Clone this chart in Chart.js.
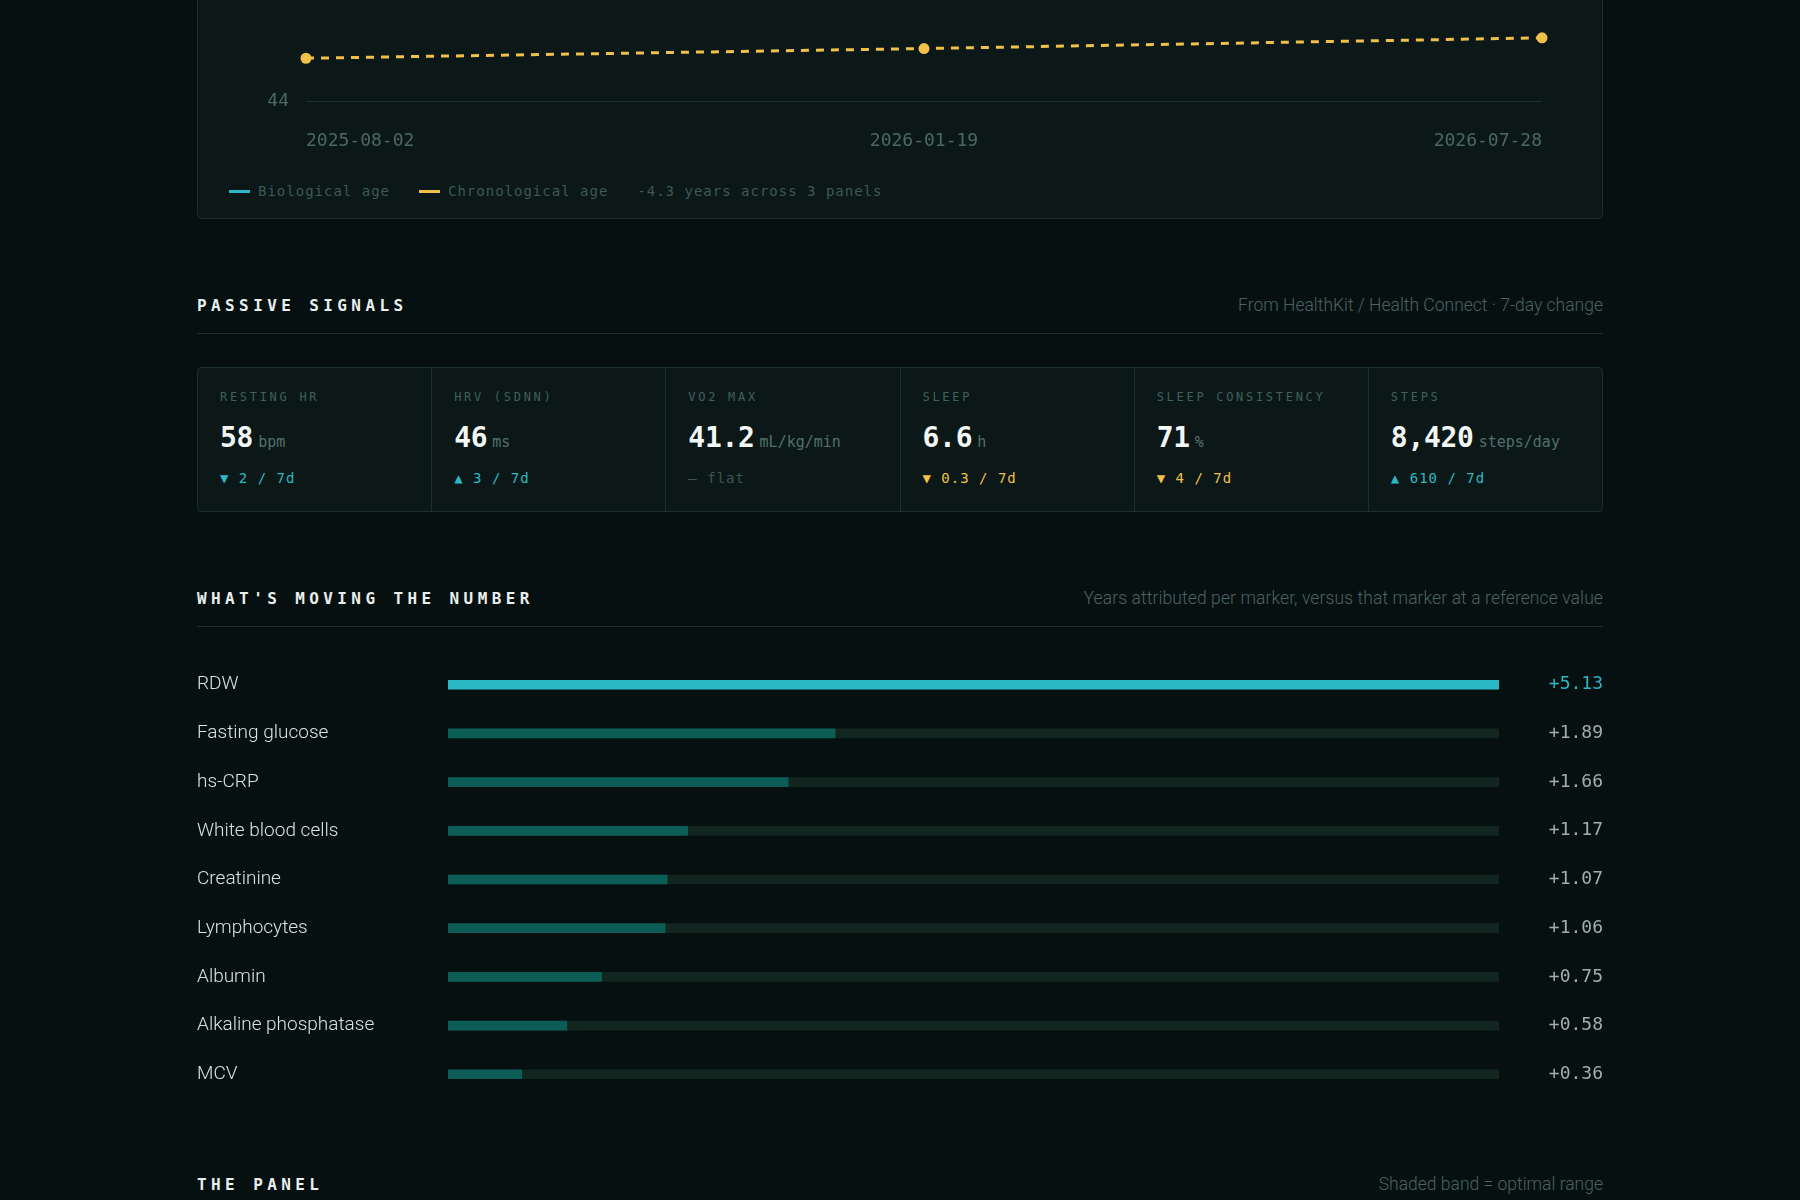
<!DOCTYPE html>
<html>
<head>
<meta charset="utf-8">
<script src="https://cdn.jsdelivr.net/npm/chart.js@4.4.1/dist/chart.umd.min.js"></script>
<style>
  html, body { margin: 0; padding: 0; }
  body {
    width: 1800px; height: 1200px; overflow: hidden; position: relative;
    background: #071010; color: #e6eeec;
    font-family: Roboto, "Noto Sans", sans-serif;
  }
  .abs { position: absolute; }
  .panel {
    left: 197px; top: -260px; width: 1404px; height: 477px;
    background: #0b1817; border: 1px solid #1a302c; border-radius: 6px;
  }
  .legend {
    left: 229px; top: 181px; height: 20px; display: flex; align-items: center;
    font-family: "DejaVu Sans Mono", monospace; font-size: 14px; letter-spacing: 1px; color: #3e5955;
  }
  .legend .sw { width: 21px; height: 3px; margin-right: 8px; }
  .legend .item { display: flex; align-items: center; margin-right: 29px; }
  .head {
    left: 197px; width: 1406px; height: 24px; display: flex; align-items: center; justify-content: space-between;
  }
  .head .t {
    font-family: "DejaVu Sans Mono", monospace; font-weight: bold; font-size: 16px;
    letter-spacing: 4.4px; color: #e8efed;
  }
  .head .n { font-size: 17.5px; font-weight: 300; color: #4b6460; }
  .rule { left: 197px; width: 1406px; height: 1px; background: #1a302c; }
  .cards {
    left: 197px; top: 367px; width: 1404px; height: 143px; display: flex;
    background: #0b1817; border: 1px solid #1a302c; border-radius: 4px;
  }
  .card { flex: 1; position: relative; border-left: 1px solid #1a302c; }
  .card:first-child { border-left: none; }
  .card .lab {
    position: absolute; left: 22px; top: 22px;
    font-family: "DejaVu Sans Mono", monospace; font-size: 12px; letter-spacing: 2.7px; color: #40605a;
  }
  .card .val {
    position: absolute; left: 22px; top: 53px; white-space: nowrap;
    font-family: "DejaVu Sans Mono", monospace;
  }
  .card .val b { font-size: 28px; font-weight: 600; color: #f2f6f5; letter-spacing: -0.3px; }
  .card .val span { font-size: 15px; color: #52706a; margin-left: 5px; }
  .card .dl {
    position: absolute; left: 22px; top: 102px;
    font-family: "DejaVu Sans Mono", monospace; font-size: 14px; letter-spacing: 1px;
  }
</style>
</head>
<body>

<div class="abs panel"></div>
<div class="abs" style="left:230px; top:-160px; width:1334px; height:330px;">
  <canvas id="ageChart"></canvas>
</div>
<div class="abs legend">
  <div class="item"><div class="sw" style="background:#2bb8c4"></div>Biological age</div>
  <div class="item"><div class="sw" style="background:#f0c04a"></div>Chronological age</div>
  <div class="item">-4.3 years across 3 panels</div>
</div>

<div class="abs head" style="top:293px;"><div class="t">PASSIVE SIGNALS</div><div class="n">From HealthKit / Health Connect · 7-day change</div></div>
<div class="abs rule" style="top:333px;"></div>
<div class="abs cards" id="cards"></div>

<div class="abs head" style="top:586px;"><div class="t">WHAT'S MOVING THE NUMBER</div><div class="n" style="letter-spacing:0.1px">Years attributed per marker, versus that marker at a reference value</div></div>
<div class="abs rule" style="top:626px;"></div>
<div class="abs" style="left:197px; top:646px; width:1406px; height:467px;">
  <canvas id="moveChart"></canvas>
</div>

<div class="abs head" style="top:1172px;"><div class="t">THE PANEL</div><div class="n">Shaded band = optimal range</div></div>

<script>
  // age trend
  const panelDates = ['2025-08-02', '2026-01-19', '2026-07-28'];
  const bioAge = [54.6, 52.3, 50.3];
  const chronoAge = [46.2, 46.7, 47.25];

  // passive signals
  const signalNames = ['RESTING HR', 'HRV (SDNN)', 'VO2 MAX', 'SLEEP', 'SLEEP CONSISTENCY', 'STEPS'];
  const signalValues = ['58', '46', '41.2', '6.6', '71', '8,420'];
  const signalUnits = ['bpm', 'ms', 'mL/kg/min', 'h', '%', 'steps/day'];
  const signalDeltas = ['▼ 2 / 7d', '▲ 3 / 7d', '– flat', '▼ 0.3 / 7d', '▼ 4 / 7d', '▲ 610 / 7d'];
  const signalTone = ['good', 'good', 'flat', 'bad', 'bad', 'good'];

  // attribution per marker
  const markers = ['RDW', 'Fasting glucose', 'hs-CRP', 'White blood cells', 'Creatinine',
                   'Lymphocytes', 'Albumin', 'Alkaline phosphatase', 'MCV'];
  const markerYears = [5.13, 1.89, 1.66, 1.17, 1.07, 1.06, 0.75, 0.58, 0.36];

  const cyan = '#2bb8c4';
  const yellow = '#f0c04a';
  const teal = '#0b5d55';
  const track = '#12251f';
  const mono = '"DejaVu Sans Mono", monospace';

  // cards
  const toneColor = { good: cyan, bad: yellow, flat: '#3d5651' };
  const cards = document.getElementById('cards');
  signalNames.forEach(function (name, i) {
    const c = document.createElement('div');
    c.className = 'card';
    c.innerHTML = '<div class="lab">' + name + '</div>' +
      '<div class="val"><b>' + signalValues[i] + '</b><span>' + signalUnits[i] + '</span></div>' +
      '<div class="dl" style="color:' + toneColor[signalTone[i]] + '">' + signalDeltas[i] + '</div>';
    cards.appendChild(c);
  });

  // age chart
  new Chart(document.getElementById('ageChart'), {
    type: 'line',
    data: {
      labels: panelDates,
      datasets: [{
        label: 'Biological age',
        data: bioAge,
        borderColor: cyan,
        backgroundColor: cyan,
        borderWidth: 3,
        pointRadius: 5,
        clip: 10
      }, {
        label: 'Chronological age',
        data: chronoAge,
        borderColor: yellow,
        backgroundColor: yellow,
        borderWidth: 3,
        borderDash: [8, 7],
        pointRadius: 5.5,
        pointBorderWidth: 0,
        clip: 10
      }]
    },
    options: {
      responsive: true,
      maintainAspectRatio: false,
      animation: false,
      layout: { padding: { top: 15, right: 18, left: 0, bottom: 0 } },
      plugins: { legend: { display: false }, tooltip: { enabled: false } },
      scales: {
        x: {
          grid: { display: false },
          border: { display: false },
          ticks: { align: 'inner', maxRotation: 0, autoSkip: false, color: '#4d6863', padding: 22,
                   font: { family: mono, size: 18 } },
          afterFit: function (s) { s.height = 69; }
        },
        y: {
          min: 44,
          max: 56,
          grid: { color: '#1c3530', drawTicks: false },
          border: { display: false },
          ticks: { stepSize: 6, color: '#4d6863', padding: 17, font: { family: mono, size: 18 } },
          afterFit: function (s) { s.width = 76; }
        }
      }
    }
  });

  // attribution bars
  const maxYears = Math.max.apply(null, markerYears);
  const trackValues = markerYears.map(function () { return maxYears; });
  const yearLabels = markerYears.map(function (v) { return '+' + v.toFixed(2); });

  new Chart(document.getElementById('moveChart'), {
    type: 'bar',
    data: {
      labels: markers,
      datasets: [{
        data: markerYears,
        backgroundColor: markerYears.map(function (v, i) { return i === 0 ? cyan : teal; }),
        barThickness: 9,
        borderRadius: 1,
        borderSkipped: false,
        grouped: false,
        order: 0
      }, {
        data: trackValues,
        backgroundColor: track,
        barThickness: 9,
        borderRadius: 1,
        borderSkipped: false,
        grouped: false,
        order: 1
      }]
    },
    options: {
      indexAxis: 'y',
      responsive: true,
      maintainAspectRatio: false,
      animation: false,
      layout: { padding: 0 },
      plugins: { legend: { display: false }, tooltip: { enabled: false } },
      scales: {
        x: { min: 0, max: maxYears, display: false },
        y: {
          grid: { display: false },
          border: { display: false },
          ticks: { crossAlign: 'far', color: '#dbe3e0', font: { family: 'Roboto', size: 19, weight: 300 } },
          afterFit: function (s) { s.width = 251; }
        },
        y2: {
          type: 'category',
          labels: yearLabels,
          position: 'right',
          offset: true,
          grid: { display: false },
          border: { display: false },
          ticks: {
            crossAlign: 'far',
            color: function (ctx) { return ctx.index === 0 ? cyan : '#9fb0ab'; },
            font: { family: mono, size: 18 }
          },
          afterFit: function (s) { s.width = 104; }
        }
      }
    }
  });
</script>
</body>
</html>
